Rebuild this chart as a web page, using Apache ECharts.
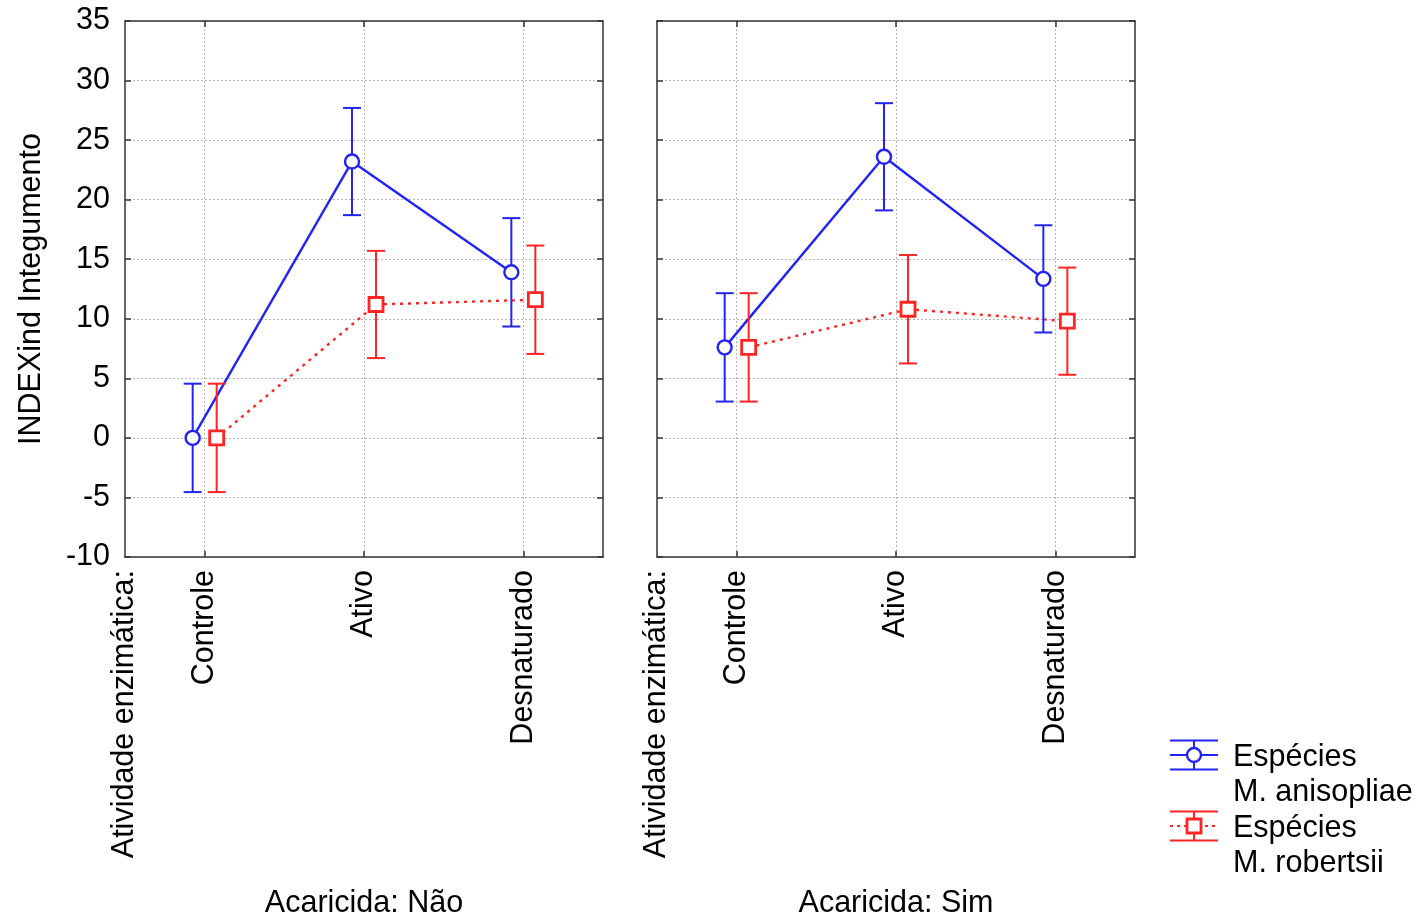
<!DOCTYPE html>
<html><head><meta charset="utf-8">
<script src="https://cdn.jsdelivr.net/npm/echarts@6/dist/echarts.min.js"></script>
<style>html,body{margin:0;padding:0;background:#fff}#c{width:1422px;height:919px}</style>
</head><body><div id="c"></div>
<script>
// ---- data ----
const categories = ['Controle', 'Ativo', 'Desnaturado'];
const panelTitles = ['Acaricida: Não', 'Acaricida: Sim'];
const factorLabel = 'Atividade enzimática:';
const yAxisTitle = 'INDEXind Integumento';
const legendNames = [['Espécies', 'M. anisopliae'], ['Espécies', 'M. robertsii']];
const yMin = -10, yMax = 35, yStep = 5;

// Acaricida: Não
const anisoNao = [0.0, 23.2, 13.9];
const anisoNaoErr = [4.55, 4.5, 4.55];
const robNao = [0.0, 11.2, 11.6];
const robNaoErr = [4.55, 4.5, 4.55];
// Acaricida: Sim
const anisoSim = [7.6, 23.6, 13.35];
const anisoSimErr = [4.55, 4.5, 4.5];
const robSim = [7.6, 10.8, 9.8];
const robSimErr = [4.55, 4.55, 4.5];

// ---- styles ----
const BLUE = '#2323f5', RED = '#ff2424', AX = '#333';
const FONT = 'Liberation Sans, Arial, sans-serif';
const FS = 30.5;

const chart = echarts.init(document.getElementById('c'), null, {renderer: 'canvas'});

const grids = [
  {left: 125, top: 21, width: 478, height: 536},
  {left: 657, top: 21, width: 478, height: 536}
];

const xAxes = [], yAxes = [];
grids.forEach((g, gi) => {
  const base = {
    type: 'value', gridIndex: gi, min: -0.5, max: 2.5,
    axisLine: {show: true, onZero: false, lineStyle: {color: AX, width: 1.5}},
    axisTick: {show: true, inside: true, length: 6, lineStyle: {color: AX, width: 1.5}, customValues: [0, 1, 2]},
  };
  xAxes.push(Object.assign({}, base, {
    position: 'bottom',
    axisLabel: {show: true, customValues: [0, 1, 2], rotate: 90, margin: 13, fontSize: FS, fontFamily: FONT, color: '#000',
      formatter: v => categories[Math.round(v)]},
    splitLine: {show: true, lineStyle: {color: '#b5b5b5', type: [2, 2], width: 1}}
  }));
  xAxes.push(Object.assign({}, base, {
    position: 'top',
    axisLabel: {show: false},
    splitLine: {show: false}
  }));
  const ybase = {
    type: 'value', gridIndex: gi, min: yMin, max: yMax, interval: yStep,
    axisLine: {show: true, onZero: false, lineStyle: {color: AX, width: 1.5}},
    axisTick: {show: true, inside: true, length: 6, lineStyle: {color: AX, width: 1.5}},
  };
  yAxes.push(Object.assign({}, ybase, {
    position: 'left',
    axisLabel: {show: gi === 0, margin: 15, fontSize: FS, fontFamily: FONT, color: '#000'},
    splitLine: {show: true, lineStyle: {color: '#b5b5b5', type: [2, 2], width: 1}},
    name: gi === 0 ? yAxisTitle : '', nameLocation: 'middle', nameGap: 78,
    nameTextStyle: {fontSize: FS, fontFamily: FONT, color: '#000'}
  }));
  yAxes.push(Object.assign({}, ybase, {
    position: 'right',
    axisLabel: {show: false},
    splitLine: {show: false}
  }));
});

function lineSeries(gi, means, color, dashed, off) {
  return {
    type: 'custom', xAxisIndex: gi * 2, yAxisIndex: gi * 2, z: 2,
    data: means.map((m, i) => [i, m]),
    renderItem(params, api) {
      const i = params.dataIndex;
      if (i >= means.length - 1) return {type: 'group', children: []};
      const p0 = api.coord([i, means[i]]);
      const p1 = api.coord([i + 1, means[i + 1]]);
      return {
        type: 'line',
        shape: {x1: p0[0] + off, y1: p0[1], x2: p1[0] + off, y2: p1[1]},
        style: {stroke: color, lineWidth: 2.4, lineDash: dashed ? [3, 5] : null}
      };
    }
  };
}

function pointSeries(gi, means, errs, color, marker, off) {
  return {
    type: 'custom', xAxisIndex: gi * 2, yAxisIndex: gi * 2, z: 3,
    data: means.map((m, i) => [i, m, errs[i]]),
    renderItem(params, api) {
      const i = api.value(0), m = api.value(1), e = api.value(2);
      const c = api.coord([i, m]);
      const hi = api.coord([i, m + e]);
      const lo = api.coord([i, m - e]);
      const x = c[0] + off, cw = 9;
      const st = {stroke: color, lineWidth: 2};
      const children = [
        {type: 'line', shape: {x1: x, y1: hi[1], x2: x, y2: lo[1]}, style: st},
        {type: 'line', shape: {x1: x - cw, y1: hi[1], x2: x + cw, y2: hi[1]}, style: st},
        {type: 'line', shape: {x1: x - cw, y1: lo[1], x2: x + cw, y2: lo[1]}, style: st}
      ];
      if (marker === 'circle') {
        children.push({type: 'circle', shape: {cx: x, cy: c[1], r: 7}, style: {fill: '#fff', stroke: color, lineWidth: 2.4}});
      } else {
        children.push({type: 'rect', shape: {x: x - 7, y: c[1] - 7, width: 14, height: 14}, style: {fill: '#fff', stroke: color, lineWidth: 2.8}});
      }
      return {type: 'group', children};
    }
  };
}

const panelData = [
  {a: anisoNao, ae: anisoNaoErr, r: robNao, re: robNaoErr},
  {a: anisoSim, ae: anisoSimErr, r: robSim, re: robSimErr}
];
const series = [];
panelData.forEach((p, gi) => {
  series.push(lineSeries(gi, p.a, BLUE, false, -12));
  series.push(lineSeries(gi, p.r, RED, true, 12));
  series.push(pointSeries(gi, p.a, p.ae, BLUE, 'circle', -12));
  series.push(pointSeries(gi, p.r, p.re, RED, 'square', 12));
});

// ---- extra text & legend ----
const graphic = [];
grids.forEach((g, gi) => {
  graphic.push({type: 'text', x: g.left, y: 570, rotation: Math.PI / 2,
    style: {text: factorLabel, font: `${FS}px ${FONT}`, fill: '#000', textAlign: 'right', textVerticalAlign: 'middle'}});
  graphic.push({type: 'text', x: g.left + g.width / 2, y: 904,
    style: {text: panelTitles[gi], font: `${FS}px ${FONT}`, fill: '#000', textAlign: 'center', textVerticalAlign: 'middle'}});
});
const legendRows = [
  {y: 755, color: BLUE, marker: 'circle', dashed: false, names: legendNames[0]},
  {y: 826, color: RED, marker: 'square', dashed: true, names: legendNames[1]}
];
legendRows.forEach(r => {
  const x0 = 1170, x1 = 1218, xc = 1194, h = 14.5;
  const st = {stroke: r.color, lineWidth: 2};
  graphic.push({type: 'line', shape: {x1: x0, y1: r.y - h, x2: x1, y2: r.y - h}, style: st});
  graphic.push({type: 'line', shape: {x1: x0, y1: r.y + h, x2: x1, y2: r.y + h}, style: st});
  graphic.push({type: 'line', shape: {x1: xc, y1: r.y - h, x2: xc, y2: r.y + h}, style: st});
  graphic.push({type: 'line', shape: {x1: x0, y1: r.y, x2: x1, y2: r.y},
    style: {stroke: r.color, lineWidth: 2, lineDash: r.dashed ? [3, 4] : null}});
  if (r.marker === 'circle') {
    graphic.push({type: 'circle', shape: {cx: xc, cy: r.y, r: 7}, style: {fill: '#fff', stroke: r.color, lineWidth: 2.4}});
  } else {
    graphic.push({type: 'rect', shape: {x: xc - 7, y: r.y - 7, width: 14, height: 14}, style: {fill: '#fff', stroke: r.color, lineWidth: 2.8}});
  }
  graphic.push({type: 'text', x: 1233, y: r.y + 3, style: {text: r.names[0], font: `${FS}px ${FONT}`, fill: '#000', textVerticalAlign: 'middle'}});
  graphic.push({type: 'text', x: 1233, y: r.y + 38, style: {text: r.names[1], font: `${FS}px ${FONT}`, fill: '#000', textVerticalAlign: 'middle'}});
});

chart.setOption({
  animation: false,
  backgroundColor: '#fff',
  grid: grids,
  xAxis: xAxes,
  yAxis: yAxes,
  series,
  graphic
});
</script></body></html>
